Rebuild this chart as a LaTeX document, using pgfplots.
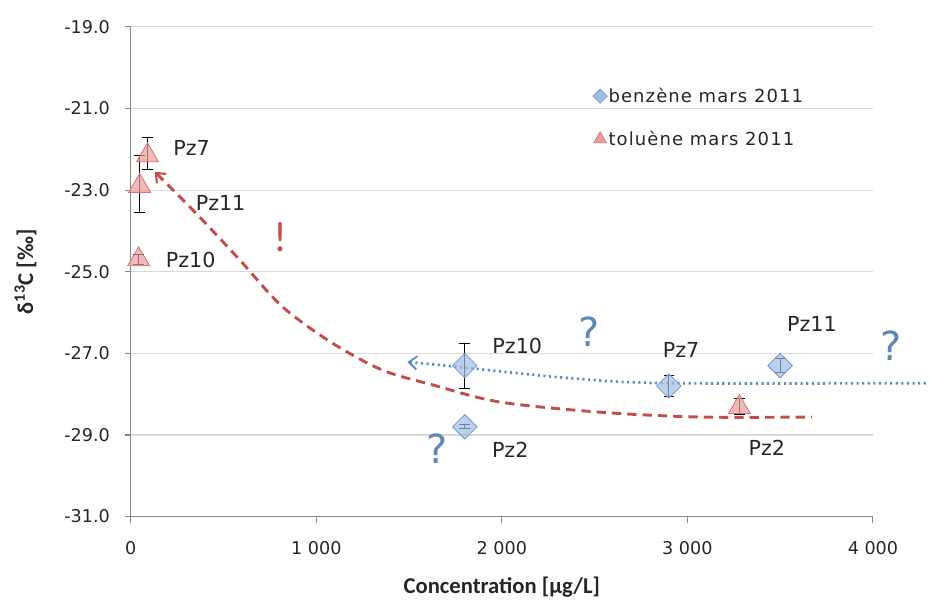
\documentclass[border=0pt]{standalone}
\usepackage{fontspec}
\setmainfont{DejaVu Sans}
\newfontfamily\carlito{Carlito}
\newfontfamily\legfont[LetterSpace=6]{DejaVu Sans}
\usepackage{pgfplots}
\pgfplotsset{compat=1.18}
\usetikzlibrary{arrows.meta}

\definecolor{tolfill}{HTML}{E99C9C}
\definecolor{toldraw}{HTML}{D27474}
\definecolor{benfill}{HTML}{A0BDE4}
\definecolor{bendraw}{HTML}{7595CC}
\definecolor{dashred}{HTML}{C0504D}
\definecolor{dotblue}{HTML}{5B8BC9}
\definecolor{qblue}{HTML}{5F87B5}
\definecolor{gridc}{HTML}{D9D9D9}
\definecolor{axisc}{HTML}{868686}

\begin{document}
\begin{tikzpicture}
\begin{axis}[
  scale only axis,
  width=557pt, height=367.5pt,
  xmin=0, xmax=4000, ymin=-31, ymax=-19,
  xtick={0,1000,2000,3000,4000},
  ytick={-31,-29,-27,-25,-23,-21,-19},
  axis x line=bottom, axis y line=left,
  axis line style={-, axisc, line width=0.8pt},
  tick align=outside, major tick length=4.5pt,
  tick style={axisc, line width=0.8pt},
  ymajorgrids, grid style={gridc, line width=0.8pt},
  clip=false,
  /pgf/number format/assume math mode=true,
  xticklabel style={font=\fontsize{13.2}{15}\selectfont, text=black!85, inner sep=0pt, anchor=north, yshift=-14pt,
    /pgf/number format/1000 sep={\ }},
  yticklabel style={font=\fontsize{13.2}{15}\selectfont, text=black!85, inner sep=0pt, anchor=east, xshift=-11pt,
    /pgf/number format/.cd, fixed, fixed zerofill, precision=1},
  xlabel={Concentration [µg/L]},
  ylabel={δ\textsuperscript{13}C [‰]},
  every axis x label/.style={at={(axis description cs:0.5,0)}, anchor=center, yshift=-53pt,
    font=\carlito\bfseries\fontsize{17}{19}\selectfont, text=black!85},
  every axis y label/.style={at={(axis description cs:0,0.5)}, rotate=90, anchor=center, yshift=79pt,
    font=\carlito\bfseries\fontsize{17}{19}\selectfont, text=black!85},
  legend style={at={(0.617,0.884)}, anchor=north west, draw=none, fill=none,
    font=\legfont\fontsize{13.5}{15}\selectfont, text=black!85, row sep=18pt,
    nodes={inner sep=1pt}},
  legend image code/.code={\draw[#1] plot coordinates {(0.22cm,0cm)};},
  /tikz/every even column/.append style={column sep=0pt},
  legend cell align=left,
]
% bounding box of the whole picture
\path (axis cs:-705,-18.34) rectangle (axis cs:4295,-33.12);

% dashed trend (toluene)
\addplot[forget plot, smooth, tension=0.5, dashred, line width=2.2pt, dash pattern=on 7pt off 4.5pt,
  {Straight Barb[length=6pt, width=10pt, line width=1.6pt]}-]
  coordinates {(129,-22.55) (371,-23.66) (587,-24.71) (818,-25.86) (1087,-26.75)
               (1356,-27.41) (1625,-27.77) (1986,-28.19) (2524,-28.44) (3062,-28.56) (3671,-28.56)};

% dotted trend (benzene)
\addplot[forget plot, smooth, dotblue, line width=2pt, dash pattern=on 1.6pt off 2.6pt,
  {Straight Barb[length=6pt, width=10pt, line width=1.4pt]}-]
  coordinates {(1491,-27.21) (1717,-27.31) (2347,-27.60) (2885,-27.73) (4295,-27.73)};

% benzene
\addplot[forget plot, only marks, mark=square*, mark size=6.5pt,
  mark options={rotate=45, fill=benfill, draw=bendraw, line width=0.6pt, fill opacity=0.7}]
  coordinates {(1800,-27.3) (1800,-28.8) (2900,-27.8) (3500,-27.3)};
\addplot[forget plot, draw=none, mark=none,
  error bars/.cd, y dir=both, y explicit,
  error bar style={draw=black, solid, line width=0.8pt},
  error mark options={rotate=90, mark size=4pt, draw=black, line width=0.8pt}]
  coordinates {(1800,-27.3) +- (0,0.55) (1800,-28.8) +- (0,0.05)
               (2900,-27.8) +- (0,0.25) (3500,-27.3) +- (0,0.17)};

% toluene
\addplot[forget plot, only marks, mark=triangle*, mark size=9.5pt,
  mark options={fill=tolfill, draw=toldraw, line width=0.6pt, fill opacity=0.7}]
  coordinates {(90,-22.15) (48,-22.9) (42,-24.7) (3280,-28.32)};
\addplot[forget plot, draw=none, mark=none,
  error bars/.cd, y dir=both, y explicit,
  error bar style={draw=black, solid, line width=0.8pt},
  error mark options={rotate=90, mark size=4pt, draw=black, line width=0.8pt}]
  coordinates {(90,-22.1) +- (0,0.4) (48,-22.85) +- (0,0.7)
               (42,-24.7) +- (0,0.12) (3280,-28.3) +- (0,0.2)};

\addlegendimage{only marks, mark=square*, mark size=3.8pt,
  mark options={rotate=45, fill=benfill, draw=bendraw, line width=0.5pt}}
\addlegendentry{benzène mars 2011}
\addlegendimage{only marks, mark=triangle*, mark size=5.5pt,
  mark options={fill=tolfill, draw=toldraw, line width=0.5pt}}
\addlegendentry{toluène mars 2011}

% point labels
\begin{scope}[every node/.style={font=\fontsize{15.5}{18}\selectfont, text=black!85, inner sep=0pt}]
\node at (axis cs:328,-21.97) {Pz7};
\node at (axis cs:484,-23.31) {Pz11};
\node at (axis cs:323,-24.71) {Pz10};
\node at (axis cs:2083,-26.82) {Pz10};
\node at (axis cs:2045,-29.37) {Pz2};
\node at (axis cs:2966,-26.92) {Pz7};
\node at (axis cs:3671,-26.28) {Pz11};
\node at (axis cs:3428,-29.32) {Pz2};
\end{scope}

% annotations
\begin{scope}[every node/.style={font=\fontsize{30}{34}\selectfont, text=qblue, inner sep=0pt}]
\node at (axis cs:2470,-26.48) {?};
\node at (axis cs:4096,-26.82) {?};
\node at (axis cs:1652,-29.34) {?};
\end{scope}
\node[font=\carlito\fontsize{32}{36}\selectfont, text=dashred, inner sep=0pt] at (axis cs:807,-24.15) {!};
\end{axis}
\end{tikzpicture}
\end{document}
